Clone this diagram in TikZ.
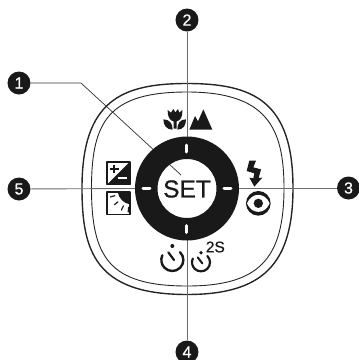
\documentclass[tikz,border=0pt]{standalone}
\usepackage{fontspec}
\setmainfont{Liberation Sans}
\newfontfamily\heavyfont[RawFeature={embolden=0.7}]{Liberation Sans}
\usetikzlibrary{calc}

\begin{document}
\begin{tikzpicture}[
		x=1pt, y=-1pt,
		line cap=round, line join=round,
		numdot/.style={circle, fill=black!90, text=white, inner sep=0pt, minimum size=23pt, font=\heavyfont\fontsize{16}{16}\selectfont},
		leader/.style={gray!85!black, line width=0.9pt, line cap=butt},
		tick/.style={white, line width=3pt, line cap=round}
		]
		\useasboundingbox (0,0) rectangle (359,360);
		
		% ---------- Parameters ----------
		\def\cx{187}
		\def\cy{188.5}
		\def\Rring{52}
		\def\Rset{29.5}
		
		% ---------- Body outlines ----------
		\draw[line width=1.4pt, black!85] (187,83.5) .. controls (253,83.5) and (293,101) .. (293,188)
		.. controls (293,265) and (262,294.5) .. (187,294.5)
		.. controls (95,294.5) and (82,251) .. (82,188)
		.. controls (82,101) and (121,83.5) .. (187,83.5) -- cycle;
		\draw[line width=0.9pt, black!85] (187,92) .. controls (266,92) and (284,127) .. (284,188)
		.. controls (284,260) and (258,286) .. (187,286)
		.. controls (109,286) and (91.5,257) .. (91.5,188)
		.. controls (91.5,121) and (109,92) .. (187,92) -- cycle;
		
		% ---------- Number markers ----------
		\node[numdot] (n1) at (19,83) {1};
		\node[numdot] (n2) at (187,20) {2};
		\node[numdot] (n3) at (348.5,188) {3};
		\node[numdot] (n4) at (187,352) {4};
		\node[numdot] (n5) at (19,189) {5};
		
		% ---------- Leader ends ----------
		\coordinate (bend1) at (81,83);
		\coordinate (end1) at (181,175);
		\coordinate (end2) at (\cx,137);
		\coordinate (end3) at (238,188);
		\coordinate (end4) at (\cx,240);
		\coordinate (end5) at (136,188.5);
		
		\draw[black!80, line width=0.7pt] (n1) -- (bend1) -- (end1);
		\draw[leader] (n2) -- (end2);
		\draw[leader] (n3) -- (end3);
		\draw[leader] (n4) -- (end4);
		\draw[leader] (n5) -- (end5);
		
		% ---------- Ring and ticks ----------
		\fill[black!90, even odd rule] (\cx,\cy) circle[radius=\Rring] (\cx,\cy) circle[radius=\Rset];
		\draw[tick] (\cx,145) -- (\cx,152);
		\draw[tick] (\cx,225.5) -- (\cx,232.5);
		\draw[tick] (143,\cy) -- (150,\cy);
		\draw[tick] (224,\cy) -- (231,\cy);
		\node[inner sep=0pt, font=\heavyfont\fontsize{24.5}{24.5}\selectfont, black!90] (set) at (\cx,189) {SET};
		
		% ---------- Flower and mountains ----------
		\begin{scope}[shift={(120,90)}, scale=1/3]
			\fill[black!90] (143,60) -- (153,68) -- (160,57) -- (166,67) -- (174,57) -- (178,68) -- (187,60)
			.. controls (189,80) and (180,93) .. (170,94) -- (170,116) -- (161,116) -- (161,94)
			.. controls (150,93) and (142,80) .. (143,60) -- cycle;
			\fill[black!90] (130,88) .. controls (148,88) and (158,100) .. (158,119)
			.. controls (140,119) and (130,106) .. (130,88) -- cycle;
			\fill[black!90] (198,88) .. controls (180,88) and (172,100) .. (172,119)
			.. controls (190,119) and (198,106) .. (198,88) -- cycle;
			\fill[black!90] (208,119) -- (225,78) -- (234,94) -- (250,58) -- (277,119) -- cycle;
		\end{scope}
		
		% ---------- Exposure and backlight boxes ----------
		\begin{scope}[shift={(70,140)}, scale=1/3]
			\fill[black!90] (112,133) -- (180,65) -- (180,133) -- cycle;
			\draw[black!90, line width=1.4pt] (111,66) rectangle (180,133);
			\draw[black!90, line width=2pt, line cap=butt] (120,87) -- (146,87) (133,74) -- (133,100);
			\draw[white, line width=2pt, line cap=butt] (145,115) -- (172,115);
			\fill[black!90] (143,156) -- (180,156) -- (180,193)
			.. controls (160,190) and (147,175) .. (143,156) -- cycle;
			\draw[black!90, line width=1.4pt] (111,156) rectangle (180,223);
			\foreach \ang in {165,140,115,95}{
				\draw[black!90, line width=1.2pt, shift={(180,155)}] (\ang:47) -- (\ang:61);
			}
		\end{scope}
		
		% ---------- Flash and red-eye ----------
		\begin{scope}[shift={(210,140)}, scale=1/3]
			\fill[black!90] (118,62) -- (138,62) -- (130,82) -- (153,88) -- (146,114) -- (157,113) -- (133,140)
			-- (118,113) -- (130,115) -- (133,100) -- (110,93) -- cycle;
			\fill[black!90] (145,190) circle[radius=37];
			\fill[white] (111,190) .. controls (125,156) and (165,156) .. (179,190)
			.. controls (165,224) and (125,224) .. (111,190) -- cycle;
			\fill[black!90] (145,190) circle[radius=14];
		\end{scope}
		
		% ---------- Self timers ----------
		\begin{scope}[shift={(120,230)}, scale=1/3]
			\draw[black!90, line width=2.4pt] (157,90) ++(-45:33) arc[start angle=-45, end angle=205, radius=33];
			\fill[black!90] (157,48) circle[radius=6];
			\draw[black!90, line width=2.2pt] (145,67) -- (162,90);
			\draw[black!90, line width=2.2pt] (243,97) ++(-45:27) arc[start angle=-45, end angle=205, radius=27];
			\fill[black!90] (243,68) circle[radius=5.5];
			\draw[black!90, line width=2pt] (233,82) -- (247,100);
			\node[inner sep=0pt, font=\heavyfont\fontsize{15.5}{15.5}\selectfont, black!90] (twos) at (286,51) {2S};
		\end{scope}
		
	\end{tikzpicture}
\end{document}
